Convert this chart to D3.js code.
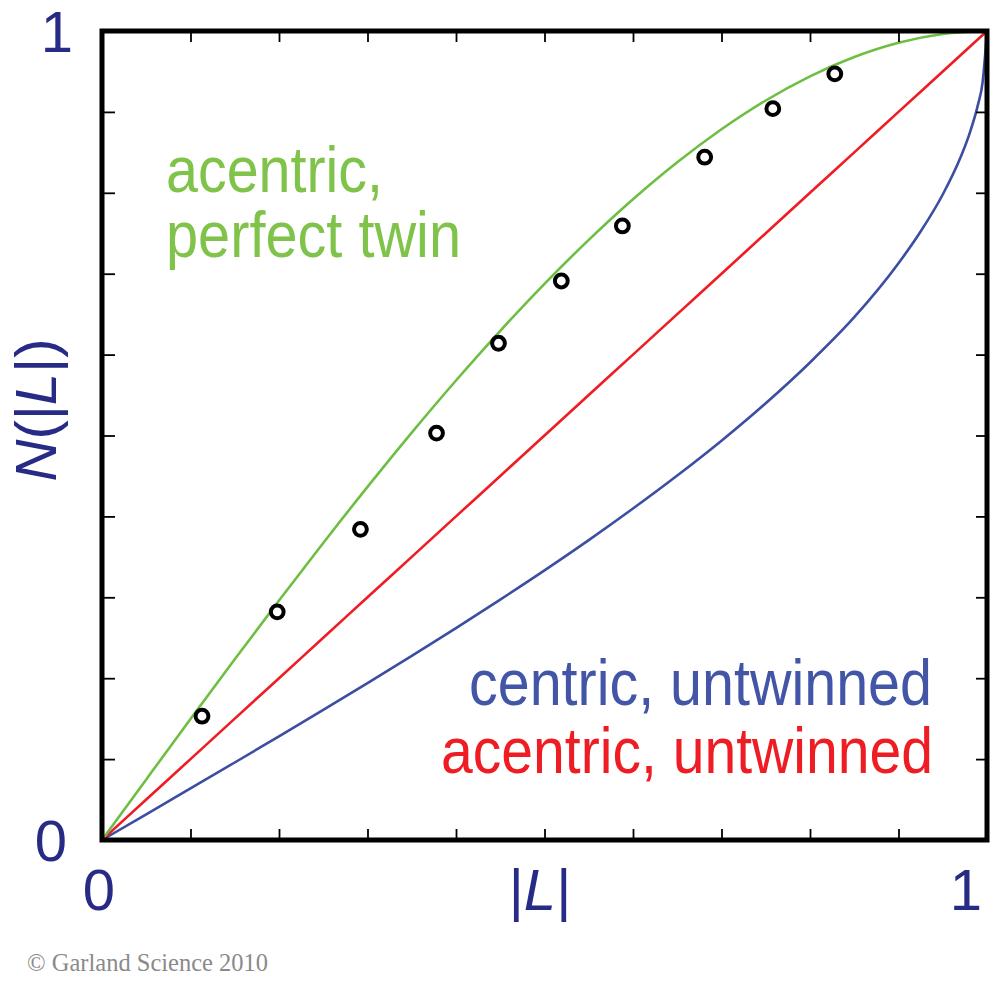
<!DOCTYPE html>
<html>
<head>
<meta charset="utf-8">
<script src="https://d3js.org/d3.v7.min.js"></script>
<style>
  html, body { margin: 0; padding: 0; background: #fff; }
  svg { display: block; }
</style>
</head>
<body>
<div id="chart"></div>
<script>
// |L| sample points
const lGrid = [0, 0.05, 0.1, 0.15, 0.2, 0.25, 0.3, 0.35, 0.4, 0.45, 0.5,
               0.55, 0.6, 0.65, 0.7, 0.75, 0.8, 0.85, 0.9, 0.95, 1];
// acentric, untwinned (red)
const acentricUntwinned = [0, 0.05, 0.1, 0.15, 0.2, 0.25, 0.3, 0.35, 0.4, 0.45, 0.5,
                           0.55, 0.6, 0.65, 0.7, 0.75, 0.8, 0.85, 0.9, 0.95, 1];
// acentric, perfect twin (green)
const perfectTwin = [0, 0.0749, 0.1495, 0.2233, 0.296, 0.3672, 0.4365, 0.5036, 0.568, 0.6294, 0.6875,
                     0.7418, 0.792, 0.8377, 0.8785, 0.9141, 0.944, 0.9679, 0.9855, 0.9963, 1];
// centric, untwinned (blue) - sampled more densely near |L| = 1
const centricL = [0, 0.05, 0.1, 0.15, 0.2, 0.25, 0.3, 0.35, 0.4, 0.45, 0.5,
                  0.55, 0.6, 0.65, 0.7, 0.75, 0.8, 0.85, 0.9, 0.925, 0.95, 0.97, 0.98, 0.99, 0.995, 1];
const centricN = [0, 0.0318, 0.0638, 0.0958, 0.1282, 0.1609, 0.194, 0.2276, 0.262, 0.2972, 0.3333,
                  0.3707, 0.4097, 0.4505, 0.4936, 0.5399, 0.5903, 0.6462, 0.7129, 0.7521, 0.7979,
                  0.8436, 0.8723, 0.9099, 0.9363, 1];
// observed points (open circles)
const observedL = [0.113, 0.198, 0.292, 0.378, 0.448, 0.519, 0.588, 0.681, 0.758, 0.828];
const observedN = [0.153, 0.282, 0.384, 0.503, 0.614, 0.691, 0.759, 0.844, 0.904, 0.947];

const tickValues = [0.1, 0.2, 0.3, 0.4, 0.5, 0.6, 0.7, 0.8, 0.9];
const endLabels = [0, 1];

const width = 995, height = 1000;
const navy = "#272b85";
const sans = "'Liberation Sans', Arial, Helvetica, sans-serif";

const svg = d3.select("#chart").append("svg")
  .attr("width", width)
  .attr("height", height);

svg.append("rect").attr("width", width).attr("height", height).attr("fill", "#fff");

const x = d3.scaleLinear().domain([0, 1]).range([102, 987]);
const y = d3.scaleLinear().domain([0, 1]).range([840, 31]);

const line = d3.line()
  .x(d => x(d[0]))
  .y(d => y(d[1]))
  .curve(d3.curveMonotoneX);

const curves = [
  { pts: d3.zip(centricL, centricN), color: "#3b4ea2" },
  { pts: d3.zip(lGrid, acentricUntwinned), color: "#f01c24" },
  { pts: d3.zip(lGrid, perfectTwin), color: "#6fbe44" }
];

svg.selectAll(".curve")
  .data(curves)
  .enter()
  .append("path")
  .attr("class", "curve")
  .attr("d", d => line(d.pts))
  .attr("fill", "none")
  .attr("stroke", d => d.color)
  .attr("stroke-width", 2.6);

// observed data
svg.selectAll(".obs")
  .data(d3.zip(observedL, observedN))
  .enter()
  .append("circle")
  .attr("class", "obs")
  .attr("cx", d => x(d[0]))
  .attr("cy", d => y(d[1]))
  .attr("r", 6.4)
  .attr("fill", "#fff")
  .attr("stroke", "#000")
  .attr("stroke-width", 4);

// inward ticks on all four sides
function styleAxis(g) {
  g.select(".domain").remove();
  g.selectAll(".tick line").attr("stroke", "#000").attr("stroke-width", 1.8);
  g.selectAll(".tick text").remove();
}
svg.append("g").attr("transform", `translate(0,${y(0)})`)
  .call(d3.axisBottom(x).tickValues(tickValues).tickSize(-11).tickFormat(""))
  .call(styleAxis);
svg.append("g").attr("transform", `translate(0,${y(1)})`)
  .call(d3.axisTop(x).tickValues(tickValues).tickSize(-11).tickFormat(""))
  .call(styleAxis);
svg.append("g").attr("transform", `translate(${x(0)},0)`)
  .call(d3.axisLeft(y).tickValues(tickValues).tickSize(-13).tickFormat(""))
  .call(styleAxis);
svg.append("g").attr("transform", `translate(${x(1)},0)`)
  .call(d3.axisRight(y).tickValues(tickValues).tickSize(-11).tickFormat(""))
  .call(styleAxis);

// frame
svg.append("rect")
  .attr("x", x(0)).attr("y", y(1))
  .attr("width", x(1) - x(0)).attr("height", y(0) - y(1))
  .attr("fill", "none")
  .attr("stroke", "#000")
  .attr("stroke-width", 5);

// end labels 0 and 1
const lab = svg.append("g")
  .attr("font-family", sans)
  .attr("font-size", 58)
  .attr("fill", navy)
  .attr("text-anchor", "middle");

lab.selectAll(".ylab")
  .data(endLabels)
  .enter()
  .append("text")
  .attr("class", "ylab")
  .attr("x", d => d === 1 ? 57 : 51)
  .attr("y", d => y(d) + 21)
  .text(d => d);

lab.selectAll(".xlab")
  .data(endLabels)
  .enter()
  .append("text")
  .attr("class", "xlab")
  .attr("x", d => d === 1 ? x(d) - 21 : x(d) - 3)
  .attr("y", 910)
  .text(d => d);

// axis titles
const xt = lab.append("text").attr("x", 540).attr("y", 910);
xt.append("tspan").text("|");
xt.append("tspan").attr("font-style", "italic").text("L");
xt.append("tspan").text("|");

const yt = lab.append("text")
  .attr("transform", "translate(56,410) rotate(-90)");
yt.append("tspan").attr("font-style", "italic").text("N");
yt.append("tspan").text("(|");
yt.append("tspan").attr("font-style", "italic").text("L");
yt.append("tspan").text("|)");

// curve annotations
const notes = [
  { text: "acentric,", x: 166, y: 192, len: 217, color: "#80c34a" },
  { text: "perfect twin", x: 166, y: 257, len: 295, color: "#80c34a" },
  { text: "centric, untwinned", x: 469, y: 705, len: 463, color: "#4255a6" },
  { text: "acentric, untwinned", x: 441, y: 773, len: 492, color: "#ee1d23" }
];
svg.selectAll(".note")
  .data(notes)
  .enter()
  .append("text")
  .attr("class", "note")
  .attr("x", d => d.x)
  .attr("y", d => d.y)
  .attr("textLength", d => d.len)
  .attr("lengthAdjust", "spacingAndGlyphs")
  .attr("font-family", sans)
  .attr("font-size", 64)
  .attr("fill", d => d.color)
  .text(d => d.text);

// copyright
svg.append("text")
  .attr("x", 27)
  .attr("y", 971)
  .attr("font-family", "'Liberation Serif', 'Times New Roman', serif")
  .attr("font-size", 24.5)
  .attr("fill", "#8a8a8a")
  .text("© Garland Science 2010");
</script>
</body>
</html>
